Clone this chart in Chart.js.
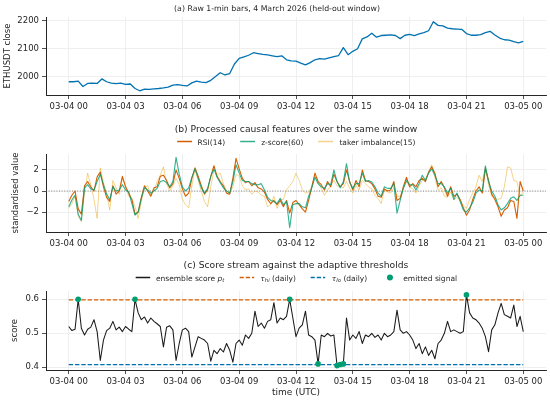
<!DOCTYPE html>
<html>
<head>
<meta charset="utf-8">
<script src="https://cdn.jsdelivr.net/npm/chart.js@4.4.1/dist/chart.umd.min.js"></script>
<style>
  body { margin: 0; background: #fff; width: 550px; height: 401px; overflow: hidden; position: relative;
         font-family: 'DejaVu Sans', sans-serif; color: #262626; }
  canvas { position: absolute; left: 0; }
  .t { position: absolute; transform: translate(-50%, -50%); white-space: nowrap; }
  .lg { position: absolute; transform: translate(-50%, -50%); display: flex; align-items: center;
        white-space: nowrap; font-size: 7.5px; }
  .lg .it { display: flex; align-items: center; margin: 0 7.5px; }
  .lg svg { margin-right: 6px; }
  sub { font-size: 70%; vertical-align: -1.5px; line-height: 0; }
</style>
</head>
<body>
<canvas id="chartA" width="550" height="115" style="top:0"></canvas>
<canvas id="chartB" width="550" height="135" style="top:115px"></canvas>
<canvas id="chartC" width="550" height="151" style="top:250px"></canvas>

<div class="t" style="left:277px; top:7.5px; font-size:7.8px">(a) Raw 1-min bars, 4 March 2026 (held-out window)</div>
<div class="t" style="left:296px; top:127.5px; font-size:9.2px">(b) Processed causal features over the same window</div>
<div class="lg" style="left:296px; top:141.5px">
  <span class="it"><svg width="15" height="6"><line x1="0" y1="3" x2="15" y2="3" stroke="#D55E00" stroke-width="1.5"/></svg>RSI(14)</span>
  <span class="it"><svg width="15" height="6"><line x1="0" y1="3" x2="15" y2="3" stroke="rgba(0,158,115,0.8)" stroke-width="1.5"/></svg>z-score(60)</span>
  <span class="it"><svg width="15" height="6"><line x1="0" y1="3" x2="15" y2="3" stroke="rgba(230,159,0,0.45)" stroke-width="1.5"/></svg>taker imbalance(15)</span>
</div>
<div class="t" style="left:296px; top:263.5px; font-size:9.2px">(c) Score stream against the adaptive thresholds</div>
<div class="lg" style="left:296px; top:277.7px">
  <span class="it"><svg width="15" height="6"><line x1="0" y1="3" x2="15" y2="3" stroke="#1a1a1a" stroke-width="1.3"/></svg>ensemble score&nbsp;<i>p<sub>t</sub></i></span>
  <span class="it"><svg width="15" height="6"><line x1="0" y1="3" x2="15" y2="3" stroke="#D55E00" stroke-width="1.3" stroke-dasharray="4.4,1.9"/></svg><i>τ<sub>hi</sub></i>&nbsp;(daily)</span>
  <span class="it"><svg width="15" height="6"><line x1="0" y1="3" x2="15" y2="3" stroke="#0072B2" stroke-width="1.3" stroke-dasharray="4.4,1.9"/></svg><i>τ<sub>lo</sub></i>&nbsp;(daily)</span>
  <span class="it"><svg width="15" height="8"><circle cx="7.5" cy="4" r="3" fill="#009E73"/></svg>emitted signal</span>
</div>

<script>
// x axis: minutes since 03-04 00:00 UTC
const tickHours = [0, 3, 6, 9, 12, 15, 18, 21, 24];
const tickLabels = ['03-04 00', '03-04 03', '03-04 06', '03-04 09', '03-04 12',
                    '03-04 15', '03-04 18', '03-04 21', '03-05 00'];

// (a) close price, one value every 15 min
const priceStep = 15;
const price = [
  1982, 1982, 1984, 1965, 1976, 1977, 1976, 1992, 1982, 1977, 1975, 1977,
  1973, 1974, 1958, 1950, 1956, 1955, 1957, 1958, 1960, 1963, 1970, 1972,
  1969, 1967, 1978, 1984, 1981, 1979, 1987, 2001, 2014, 2006, 2011, 2045,
  2065, 2070, 2076, 2085, 2082, 2079, 2077, 2074, 2071, 2074, 2060, 2056,
  2055, 2048, 2042, 2050, 2060, 2064, 2062, 2067, 2071, 2075, 2103, 2078,
  2090, 2099, 2134, 2141, 2154, 2140, 2146, 2147, 2148, 2146, 2135, 2147,
  2150, 2146, 2152, 2156, 2163, 2195, 2182, 2180, 2172, 2170, 2169, 2168,
  2153, 2147, 2147, 2149, 2156, 2161, 2148, 2137, 2131, 2130, 2124, 2120,
  2125
];

// (b) standardised features, one value every 10 min
const featStep = 10;
const rsi = [
  -1.0, -0.4, 0.0, -1.7, -2.2, 0.5,
  0.9, 0.4, 0.0, 1.35, 1.8, 0.4,
  -0.6, -1.0, 0.5, -0.3, 0.0, 1.4,
  0.4, -0.2, -0.8, -2.2, -2.0, -0.6,
  0.5, 0.0, -0.5, 0.3, 0.4, 1.4,
  1.5, 1.0, 0.3, 0.7, 2.0, 1.2,
  0.2, -0.5, -0.2, 1.2, 2.2, 1.4,
  0.5, -0.3, 0.1, 1.4, 2.4, 1.4,
  0.9, 0.5, -0.2, -0.3, 1.2, 3.1,
  2.1, 1.2, 0.8, 0.9, 0.5, 0.8,
  0.3, 0.2, -0.1, -0.8, -1.2, -0.9,
  -1.3, -0.9, -1.5, -0.9, -2.1, -1.1,
  -0.9, -1.3, -1.7, -2.0, -0.9, 0.4,
  1.7, 0.9, 0.6, 0.1, 0.9, 0.4,
  1.6, 0.9, 0.4, 0.7, 2.0, 0.9,
  0.1, 1.0, 0.4, 2.0, 1.0, 0.9,
  0.7, 0.2, -0.5, -0.6, 0.2, 0.0,
  0.1, 0.9, -0.9, -0.7, 0.4, 1.3,
  0.4, 0.7, 0.4, 1.0, 1.2, 0.9,
  1.8, 2.3, 1.7, 0.4, 0.9, 0.3,
  -0.5, 0.4, -0.5, -0.3, -0.8, -1.6,
  -2.3, -1.8, -0.8, 0.0, 0.4, -0.2,
  2.1, 1.0, -0.3, -0.8, -1.5, -2.4,
  -1.8, -1.6, -0.9, -1.0, -2.6, 0.9,
  0.0
];
const zscore = [
  -1.5, -0.85, -0.4, -2.2, -2.8, 0.3,
  0.6, 0.2, 0.1, 0.9, 1.6, 0.6,
  -0.3, -0.8, 0.4, 0.0, 0.1, 0.6,
  0.1, -0.1, -1.2, -2.3, -2.0, -0.7,
  0.3, 0.1, -0.2, 0.0, 0.25, 0.9,
  1.0, 0.8, 0.4, 0.9, 3.2, 1.6,
  0.4, 0.0, 0.3, 1.3, 2.1, 1.2,
  0.3, -0.2, 0.25, 1.4, 2.1, 1.3,
  0.8, 0.3, 0.0, -0.2, 0.9, 2.5,
  1.7, 1.0, 0.9, 0.9, 0.7, 0.6,
  0.6, 0.7, 0.1, -0.6, -0.9, -1.0,
  -1.2, -0.7, -1.3, -1.0, -3.5, -1.3,
  -1.2, -1.2, -1.5, -1.6, -0.5, 0.3,
  1.3, 0.7, 0.4, 0.25, 0.7, 0.6,
  2.0, 0.9, 0.3, 0.9, 2.6, 0.8,
  0.25, 0.7, 0.7, 1.7, 0.9, 1.0,
  0.85, 0.4, -0.2, -0.5, 0.4, 0.25,
  0.25, 0.7, -2.1, -0.9, 0.25, 1.0,
  0.6, 0.6, 0.1, 0.7, 1.5, 1.0,
  1.7, 2.1, 1.5, 0.7, 0.7, 0.4,
  -0.2, 0.25, -0.8, -0.2, -1.0, -1.8,
  -2.0, -1.6, -1.1, -0.2, 0.1, 0.0,
  2.4, 0.9, 0.0, -0.5, -1.3, -1.8,
  -1.6, -1.2, -0.7, -0.55, -0.9, -0.4,
  -0.4
];
const taker = [
  -1.65, -1.2, -0.5, -2.4, -2.9, -0.2,
  1.7, 0.6, -0.8, -2.6, 2.2, 0.8,
  -0.3, -1.8, 1.0, 0.3, -0.3, 1.2,
  0.5, -0.5, -0.7, -1.5, -2.6, -1.0,
  0.3, 0.5, -0.4, 0.0, 0.9, 1.5,
  2.3, 0.7, 0.0, 0.5, 1.2, 0.6,
  -0.8, -1.3, -1.6, 0.5, 2.1, 1.0,
  0.0, -1.0, -1.5, 0.4, 2.0, 1.5,
  1.7, 0.7, 0.0, -0.2, 0.4, 1.6,
  1.4, 0.5, 0.1, 0.2, -0.3, 0.0,
  -0.1, -0.4, -0.5, -1.5, -1.3, -0.5,
  -1.65, -0.8, -0.8, 0.1, 0.5, 0.9,
  1.7, 1.0, 0.1, -0.2, -0.1, 0.4,
  1.4, 0.8, 0.25, -0.4, 0.1, 0.5,
  1.0, 0.5, 0.4, 0.3, 0.9, 0.25,
  -0.2, 0.5, 0.1, 1.0, 0.7, 0.4,
  0.2, -0.4, -0.7, -1.2, 0.1, -0.1,
  -0.2, 0.3, -0.5, -0.5, 0.2, 0.9,
  0.4, 0.2, -0.2, 0.5, 1.0, 1.2,
  1.7, 2.5, 1.3, 0.1, 0.3, -0.5,
  -0.6, -0.1, -0.85, -0.6, -0.85, -1.4,
  -1.65, -0.8, -0.2, 0.4, 1.5, 0.9,
  2.3, 0.6, -0.5, -0.7, -0.8, -0.7,
  0.4, 2.3, 2.2, 1.0, 0.9, -0.5,
  -0.1
];

// (c) ensemble score, one value every 10 min, and thresholds
const scoreStep = 10;
const score = [
  0.520, 0.508, 0.512, 0.600, 0.515, 0.495,
  0.512, 0.518, 0.540, 0.505, 0.420, 0.480,
  0.508, 0.515, 0.535, 0.510, 0.518, 0.505,
  0.520, 0.512, 0.505, 0.600, 0.560, 0.540,
  0.548, 0.530, 0.545, 0.535, 0.528, 0.520,
  0.460, 0.518, 0.522, 0.510, 0.420, 0.470,
  0.510, 0.515, 0.505, 0.430, 0.460, 0.490,
  0.485, 0.480, 0.470, 0.418, 0.450, 0.440,
  0.455, 0.445, 0.470, 0.450, 0.415, 0.470,
  0.480, 0.465, 0.495, 0.485, 0.500, 0.565,
  0.520, 0.530, 0.515, 0.535, 0.540, 0.590,
  0.530, 0.545, 0.540, 0.550, 0.600, 0.545,
  0.490, 0.515, 0.525, 0.565, 0.495, 0.490,
  0.480, 0.410, 0.495, 0.490, 0.500, 0.492,
  0.495, 0.405, 0.408, 0.410, 0.545, 0.480,
  0.495, 0.485, 0.505, 0.470, 0.495, 0.490,
  0.500, 0.488, 0.495, 0.480, 0.500, 0.490,
  0.495, 0.505, 0.568, 0.510, 0.500, 0.505,
  0.495, 0.480, 0.455, 0.470, 0.440, 0.460,
  0.435, 0.450, 0.425, 0.470, 0.480, 0.500,
  0.535, 0.505, 0.510, 0.505, 0.500, 0.505,
  0.613, 0.560, 0.545, 0.540, 0.530, 0.515,
  0.490, 0.446, 0.510, 0.525, 0.560, 0.588,
  0.555, 0.550, 0.545, 0.583, 0.520, 0.550,
  0.505
];
const signalIdx = [3, 21, 70, 79, 85, 86, 87, 126];
const tauHi = 0.598;
const tauLo = 0.408;

const INK = '#262626';
const GRID = '#ebebeb';
const X_MIN = -72, X_MAX = 1512;

Chart.defaults.font.family = "'DejaVu Sans', sans-serif";
Chart.defaults.color = INK;

function series(values, step) {
  return values.map((v, i) => ({ x: i * step, y: v }));
}

function xAxis(height, title) {
  return {
    type: 'linear', min: X_MIN, max: X_MAX,
    afterBuildTicks: s => { s.ticks = tickHours.map(h => ({ value: h * 60 })); },
    afterFit: s => { s.height = height; },
    ticks: {
      autoSkip: false, maxRotation: 0, padding: 3, color: INK, font: { size: 8.5 },
      callback: v => tickLabels[tickHours.indexOf(v / 60)]
    },
    grid: { color: GRID, lineWidth: 0.8, tickColor: INK, tickLength: 4, tickWidth: 0.8 },
    border: { color: INK, width: 1 },
    title: title ? { display: true, text: title, color: INK, font: { size: 9 }, padding: { top: 0, bottom: 3.3 } }
                 : { display: false }
  };
}

function yAxis(min, max, ticks, labels, title, titlePad) {
  return {
    type: 'linear', min: min, max: max,
    afterBuildTicks: s => { s.ticks = ticks.map(v => ({ value: v })); },
    afterFit: s => { s.width = 46; },
    ticks: {
      padding: 3, color: INK, font: { size: 8.5 },
      callback: v => labels[ticks.indexOf(v)]
    },
    grid: { color: GRID, lineWidth: 0.8, tickColor: INK, tickLength: 4, tickWidth: 0.8 },
    border: { color: INK, width: 1 },
    title: { display: true, text: title, color: INK, font: { size: 8.5 }, padding: { top: titlePad, bottom: 0 } }
  };
}

function baseOptions(top, xa, ya) {
  return {
    responsive: false, animation: false, events: [],
    layout: { padding: { top: top, left: 0, right: 4, bottom: 0 } },
    plugins: { legend: { display: false }, tooltip: { enabled: false } },
    elements: { point: { radius: 0 }, line: { tension: 0, borderJoinStyle: 'round' } },
    scales: { x: xa, y: ya }
  };
}

new Chart(document.getElementById('chartA'), {
  type: 'line',
  data: {
    datasets: [{
      data: series(price, priceStep), borderColor: '#0072B2', borderWidth: 1.3
    }]
  },
  options: baseOptions(17, xAxis(20),
    yAxis(1935, 2211.7, [2000, 2100, 2200], ['2000', '2100', '2200'], 'ETHUSDT close', 3))
});

new Chart(document.getElementById('chartB'), {
  type: 'line',
  data: {
    datasets: [
      { data: series(zscore, featStep), borderColor: 'rgba(0,158,115,0.8)', borderWidth: 1.1 },
      { data: series(rsi, featStep), borderColor: '#D55E00', borderWidth: 1.1 },
      { data: series(taker, featStep), borderColor: 'rgba(230,159,0,0.45)', borderWidth: 1.0 },
      { data: [{ x: X_MIN, y: 0 }, { x: X_MAX, y: 0 }], borderColor: '#666', borderWidth: 0.8, borderDash: [1, 1.6] }
    ]
  },
  options: baseOptions(39, xAxis(18),
    yAxis(-3.9, 3.52, [-2, 0, 2], ['\u22122', '0', '2'], 'standardised value', 10.8))
});

new Chart(document.getElementById('chartC'), {
  type: 'line',
  data: {
    datasets: [
      { data: signalIdx.map(i => ({ x: i * scoreStep, y: score[i] })), showLine: false,
        pointRadius: 2.8, pointBackgroundColor: '#009E73', pointBorderWidth: 0 },
      { data: series(score, scoreStep), borderColor: '#1a1a1a', borderWidth: 1.05 },
      { data: [{ x: 0, y: tauHi }, { x: 1440, y: tauHi }], borderColor: '#D55E00', borderWidth: 1.2, borderDash: [4.4, 1.9] },
      { data: [{ x: 0, y: tauLo }, { x: 1440, y: tauLo }], borderColor: '#0072B2', borderWidth: 1.2, borderDash: [4.4, 1.9] }
    ]
  },
  options: baseOptions(41, xAxis(31, 'time (UTC)'),
    yAxis(0.392, 0.6244, [0.4, 0.5, 0.6], ['0.4', '0.5', '0.6'], 'score', 10))
});
</script>
</body>
</html>
